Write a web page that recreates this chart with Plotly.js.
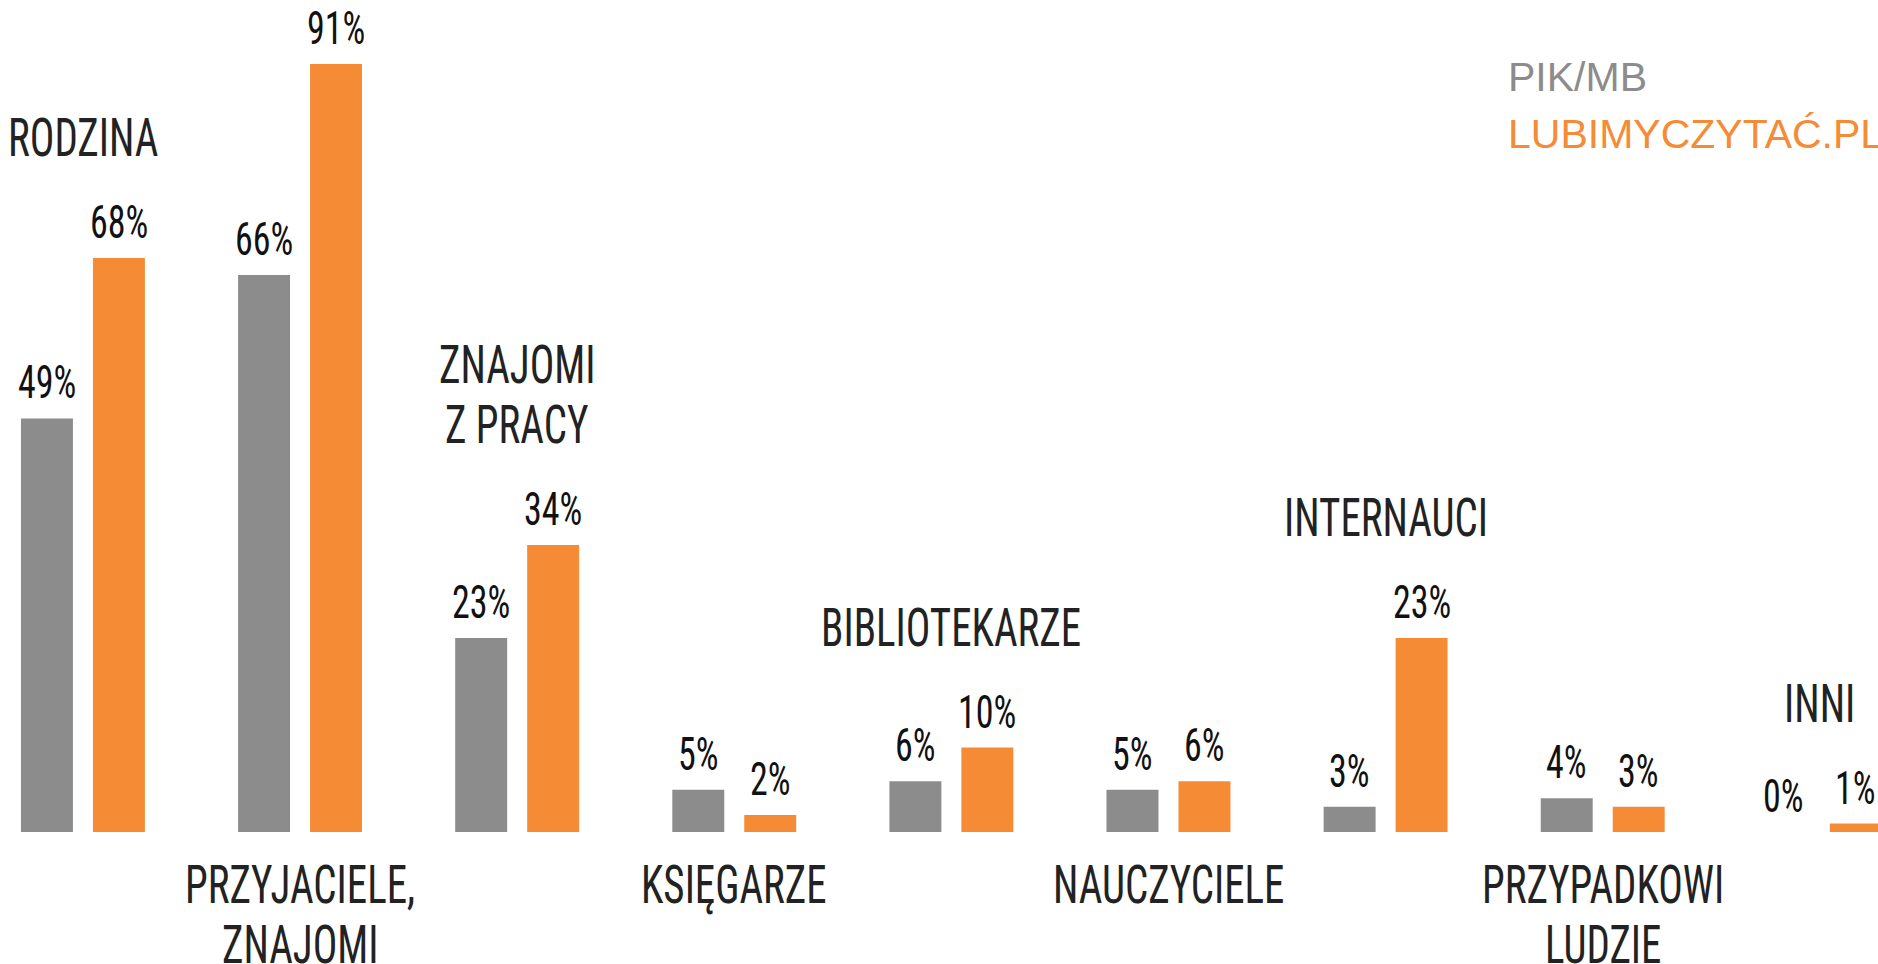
<!DOCTYPE html>
<html>
<head>
<meta charset="utf-8">
<script src="https://cdn.plot.ly/plotly-3.0.1.min.js"></script>
<style>
html,body{margin:0;padding:0;background:#fff;}
#chart{width:1878px;height:964px;}
/* tall, narrow display lettering: condensed face stretched vertically */
#chart text.annotation-text[style*="Roboto Condensed"]{
  transform-box: fill-box; transform-origin: center; transform: scaleY(1.3);
}
</style>
</head>
<body>
<div id="chart"></div>
<script>
// ---- data ----
const categories = ['Rodzina', 'Przyjaciele, znajomi', 'Znajomi z pracy', 'Księgarze', 'Bibliotekarze', 'Nauczyciele', 'Internauci', 'Przypadkowi ludzie', 'Inni'];
const categoryLabels = [['RODZINA'], ['PRZYJACIELE,', 'ZNAJOMI'], ['ZNAJOMI', 'Z PRACY'], ['KSIĘGARZE'], ['BIBLIOTEKARZE'], ['NAUCZYCIELE'], ['INTERNAUCI'], ['PRZYPADKOWI', 'LUDZIE'], ['INNI']];
const seriesNames = ['PIK/MB', 'LUBIMYCZYTAĆ.PL'];
const pikMb = [49, 66, 23, 5, 6, 5, 3, 4, 0];
const lubimyczytac = [68, 91, 34, 2, 10, 6, 23, 3, 1];

// ---- style ----
const GRAY = '#8c8c8c';
const ORANGE = '#f68b35';
const NARROW = '"Roboto Condensed", "DejaVu Sans Condensed", sans-serif';
const SANS = '"Liberation Sans", Arial, sans-serif';
const CAT_SIZE = 41, VAL_SIZE = 36, LINE_PITCH = 60;

const series = [pikMb, lubimyczytac];
const colors = [GRAY, ORANGE];

const traces = series.map((vals, s) => ({
  type: 'bar',
  name: seriesNames[s],
  x: categories,
  y: vals,
  marker: {color: colors[s], line: {width: 0}},
  hoverinfo: 'skip'
}));

const annotations = [];
// value labels
series.forEach((vals, s) => {
  vals.forEach((v, i) => {
    annotations.push({
      x: categories[i], y: v, xref: 'x', yref: 'y',
      xshift: s === 0 ? -36 : 36, yshift: 13,
      yanchor: 'bottom', xanchor: 'center',
      text: v + '%', showarrow: false,
      font: {family: NARROW, size: VAL_SIZE, color: '#111'}
    });
  });
});
// category labels, alternating above / below the bars
categories.forEach((c, i) => {
  const lines = categoryLabels[i];
  const n = lines.length;
  lines.forEach((line, k) => {
    if (i % 2 === 0) {
      const top = Math.max(pikMb[i], lubimyczytac[i]);
      annotations.push({
        x: c, y: top, xref: 'x', yref: 'y', yanchor: 'bottom', xanchor: 'center',
        yshift: 94 + (n - 1 - k) * LINE_PITCH, text: line, showarrow: false,
        font: {family: NARROW, size: CAT_SIZE, color: '#222'}
      });
    } else {
      annotations.push({
        x: c, y: 0, xref: 'x', yref: 'y', yanchor: 'top', xanchor: 'center',
        yshift: -27 - k * LINE_PITCH, text: line, showarrow: false,
        font: {family: NARROW, size: CAT_SIZE, color: '#222'}
      });
    }
  });
});
// legend as text
seriesNames.forEach((n, s) => {
  annotations.push({
    x: 0.8019, y: s === 0 ? 0.920 : 0.861, xref: 'paper', yref: 'paper',
    xanchor: 'left', yanchor: 'middle', text: n, showarrow: false,
    font: {family: SANS, size: 41, color: colors[s]}
  });
});

const layout = {
  width: 1878, height: 964,
  margin: {l: 0, r: 0, t: 0, b: 0, pad: 0},
  paper_bgcolor: '#fff', plot_bgcolor: '#fff',
  showlegend: false,
  barmode: 'group', bargap: 0.337, bargroupgap: 0.278,
  xaxis: {type: 'category', range: [-0.382, 8.268], visible: false, fixedrange: true},
  yaxis: {range: [-15.64, 98.58], visible: false, fixedrange: true},
  annotations: annotations
};

Plotly.newPlot('chart', traces, layout, {displayModeBar: false, staticPlot: true});
</script>
</body>
</html>
